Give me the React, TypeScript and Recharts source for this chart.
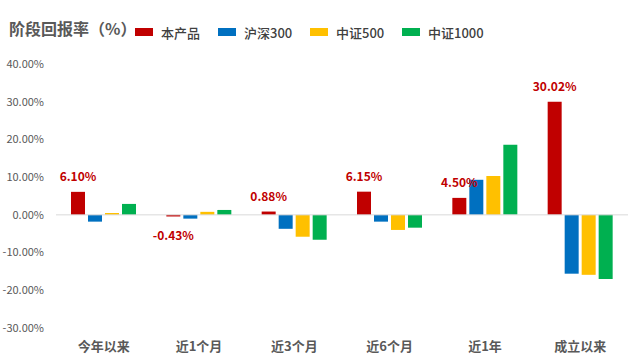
import { BarChart, Bar, XAxis, YAxis, ReferenceLine, LabelList } from 'recharts'

const categories = ['今年以来', '近1个月', '近3个月', '近6个月', '近1年', '成立以来']
const seriesNames = ['本产品', '沪深300', '中证500', '中证1000']
const seriesColors = ['#C00000', '#0070C0', '#FFC000', '#00B050']
const product = [6.1, -0.43, 0.88, 6.15, 4.5, 30.02]
const hs300 = [-1.8, -1.0, -3.7, -1.8, 9.3, -15.6]
const zz500 = [0.5, 0.8, -5.8, -4.0, 10.3, -15.9]
const zz1000 = [2.9, 1.3, -6.6, -3.4, 18.6, -17.0]
const yTicks = [-30, -20, -10, 0, 10, 20, 30, 40]

const data = categories.map((name, i) => ({
  name,
  s0: product[i],
  s1: hs300[i],
  s2: zz500[i],
  s3: zz1000[i],
}))

const cjk = '"Noto Sans CJK SC", "Noto Sans", sans-serif'

function ValueLabel(props: any) {
  const { x, y, width, height, value } = props
  const top = Math.min(y, y + height)
  const bottom = Math.max(y, y + height)
  const cy = value >= 0 ? top - 16 : bottom + 18
  return (
    <text
      x={x + width / 2}
      y={cy}
      textAnchor="middle"
      dominantBaseline="central"
      fill="#C00000"
      fontSize={12}
      fontWeight="bold"
      fontFamily={cjk}
    >
      {Number(value).toFixed(2)}%
    </text>
  )
}

function App() {
  const legendX = [135, 218, 310, 402]
  return (
    <div style={{ position: 'absolute', left: 0, top: 0, width: 640, height: 361, background: '#fff', fontFamily: cjk }}>
      <div style={{ position: 'absolute', left: 9, top: 16, fontSize: 16, fontWeight: 'bold', color: '#595959', lineHeight: '24px' }}>
        阶段回报率（%）
      </div>
      {seriesNames.map((n, i) => (
        <div key={n} style={{ position: 'absolute', left: legendX[i], top: 22, height: 20, display: 'flex', alignItems: 'center' }}>
          <span style={{ display: 'inline-block', width: 18, height: 8, background: seriesColors[i], marginRight: 8 }} />
          <span style={{ fontSize: 13, color: '#404040', fontWeight: 500 }}>{n}</span>
        </div>
      ))}
      <div style={{ position: 'absolute', left: 0, top: 0 }}>
        <BarChart
          width={640}
          height={361}
          data={data}
          margin={{ top: 64, right: 12, bottom: 3, left: 0 }}
          barSize={14}
          barGap={3}
        >
          <XAxis
            dataKey="name"
            axisLine={false}
            tickLine={false}
            height={30}
            tickMargin={8}
            tick={{ fill: '#595959', fontSize: 13, fontWeight: 'bold', fontFamily: cjk }}
          />
          <YAxis
            domain={[-30, 40]}
            ticks={yTicks}
            width={56}
            axisLine={false}
            tickLine={false}
            tickMargin={6}
            tickFormatter={(v: number) => `${v.toFixed(2)}%`}
            tick={{ fill: '#595959', fontSize: 11, fontFamily: cjk }}
          />
          <ReferenceLine y={0} stroke="#D9D9D9" strokeWidth={1} />
          {['s0', 's1', 's2', 's3'].map((k, i) => (
            <Bar key={k} dataKey={k} name={seriesNames[i]} fill={seriesColors[i]} isAnimationActive={false}>
              {i === 0 && <LabelList dataKey={k} content={ValueLabel} />}
            </Bar>
          ))}
        </BarChart>
      </div>
    </div>
  )
}

export default App
